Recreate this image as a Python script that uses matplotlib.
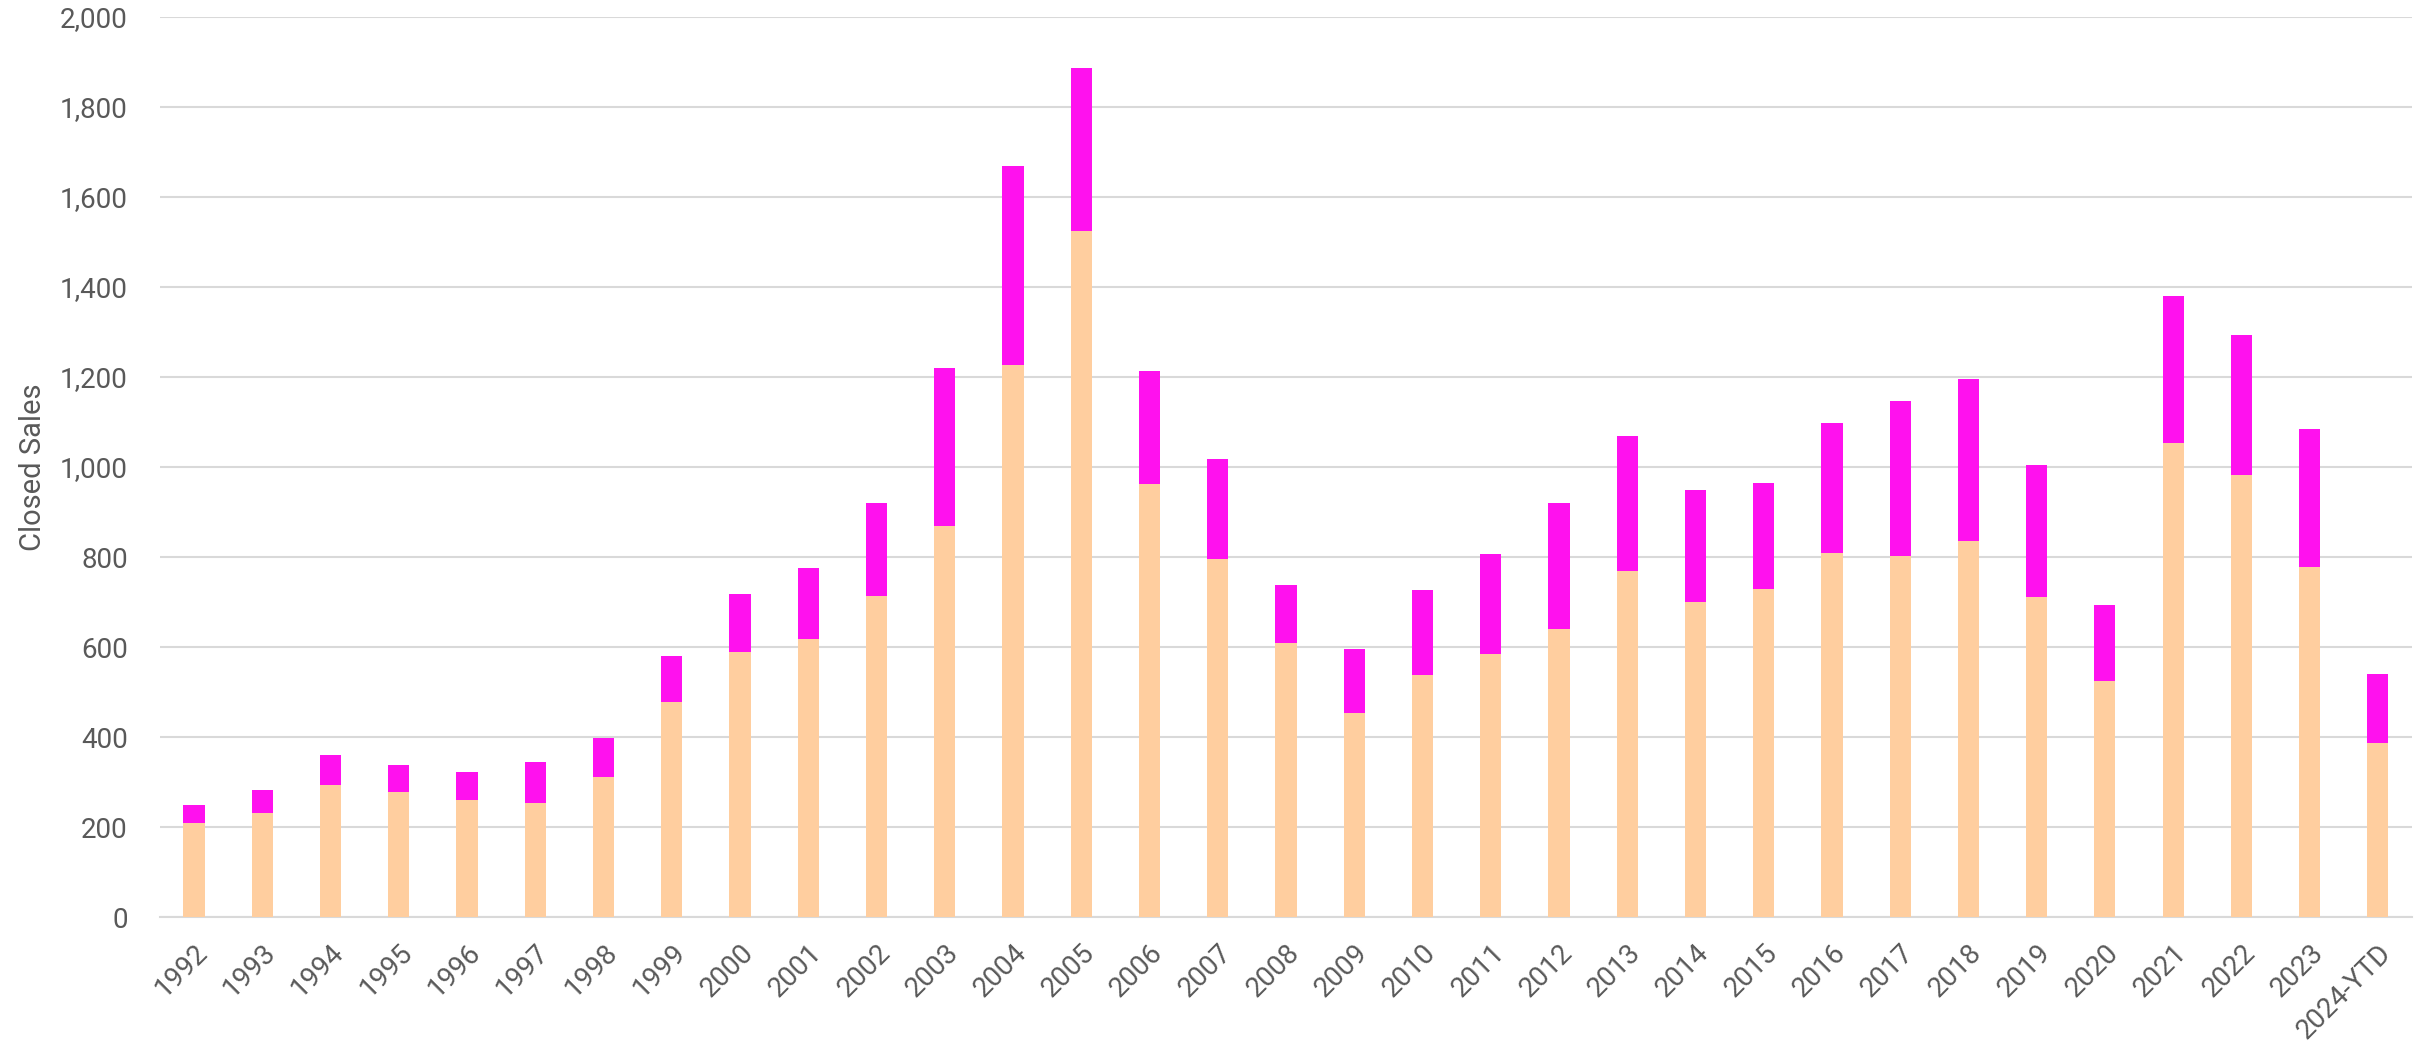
# Closed sales by year, stacked bars
import matplotlib
matplotlib.use('Agg')
import matplotlib.pyplot as plt
import numpy as np

years = ['1992', '1993', '1994', '1995', '1996', '1997', '1998', '1999', '2000',
         '2001', '2002', '2003', '2004', '2005', '2006', '2007', '2008', '2009',
         '2010', '2011', '2012', '2013', '2014', '2015', '2016', '2017', '2018',
         '2019', '2020', '2021', '2022', '2023', '2024-YTD']

# lower (peach) segment and bar totals
lower = [208, 231, 294, 277, 260, 254, 311, 478, 588,
         618, 714, 870, 1227, 1524, 963, 795, 610, 453,
         537, 584, 639, 770, 699, 728, 808, 803, 836,
         712, 525, 1054, 983, 778, 387]
total = [248, 282, 359, 338, 322, 344, 397, 581, 718,
         776, 921, 1220, 1668, 1886, 1213, 1018, 737, 596,
         726, 807, 921, 1068, 948, 964, 1097, 1147, 1196,
         1004, 694, 1379, 1294, 1084, 539]

upper = [t - l for t, l in zip(total, lower)]

plt.rcParams['font.family'] = ['Roboto', 'DejaVu Sans']

fig = plt.figure(figsize=(24.3, 10.56), dpi=100)
ax = fig.add_axes([0.0658, 0.1316, 0.9268, 0.8523])

x = np.arange(len(years))
ax.bar(x, lower, width=0.31, color='#FFCE9F', zorder=3)
ax.bar(x, upper, width=0.31, bottom=lower, color='#FF11EE', zorder=3)

ax.set_xlim(-0.5, len(years) - 0.5)
ax.set_ylim(0, 2000)
ax.set_yticks(range(0, 2001, 200))
ax.yaxis.set_major_formatter(plt.FuncFormatter(lambda v, p: f'{v:,.0f}'))
ax.grid(True, axis='y', color='#D9D9D9', linewidth=1.5, zorder=0)

for s in ['top', 'right', 'left']:
    ax.spines[s].set_visible(False)
ax.spines['bottom'].set_color('#D9D9D9')
ax.spines['bottom'].set_linewidth(1.5)

ax.set_xticks(x)
ax.set_xticklabels(years, rotation=45, ha='right', rotation_mode='anchor')
ax.tick_params(axis='both', length=0, labelsize=20, colors='#595959')
ax.tick_params(axis='x', pad=16)
ax.tick_params(axis='y', pad=23)

ax.set_ylabel('Closed Sales', fontsize=21, color='#595959')
ax.yaxis.set_label_coords(-0.050, 0.5)

plt.savefig('out.png', dpi=100)
plt.close()
